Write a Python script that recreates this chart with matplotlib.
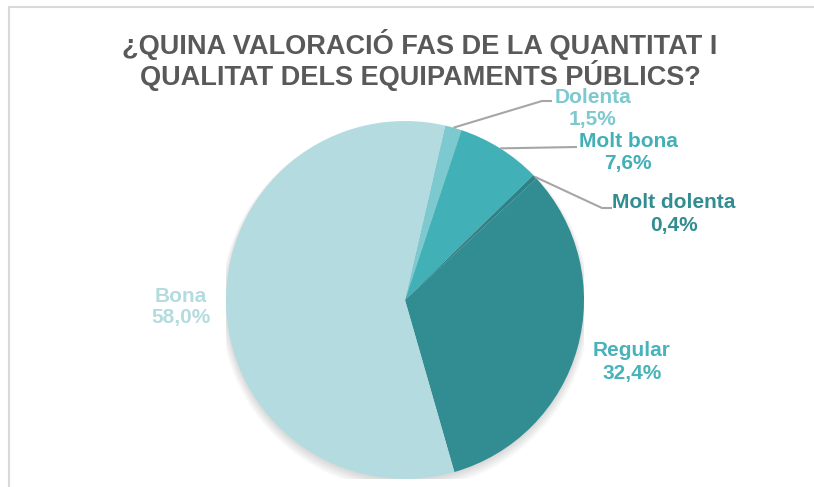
import numpy as np
import matplotlib
matplotlib.use("Agg")
from matplotlib import pyplot as plt
from matplotlib.patches import Rectangle, Circle

# data, clockwise from the top
labels = ["Dolenta", "Molt bona", "Molt dolenta", "Regular", "Bona"]
values = [1.5, 7.6, 0.4, 32.4, 58.0]
colors = ["#7cc9cf", "#42b0b7", "#2d8287", "#318d92", "#b4dce0"]
label_colors = ["#7cc9cf", "#42b0b7", "#318d92", "#48b3ba", "#b4dce0"]

title = "¿QUINA VALORACIÓ FAS DE LA QUANTITAT I\nQUALITAT DELS EQUIPAMENTS PÚBLICS?"

W, H = 814, 487
CX, CY, R = 405, 300, 179


def px(x, y):
    # pixel position -> data coords (pie radius 1)
    return (x - CX) / R, (CY - y) / R


# label centres and leader elbows in pixels
label_pos = {
    "Dolenta": (593, 108),
    "Molt bona": (628, 152),
    "Molt dolenta": (674, 214),
    "Regular": (632, 362),
    "Bona": (181, 307),
}
leaders = {
    "Dolenta": [(542, 101), (552, 101)],
    "Molt bona": [(577, 147)],
    "Molt dolenta": [(602, 208), (612, 208)],
}

plt.rcParams["font.family"] = ["Liberation Sans", "DejaVu Sans"]

fig = plt.figure(figsize=(W / 100, H / 100), dpi=100)
fig.patch.set_facecolor("white")

# light frame of the chart area
fig.patches.append(Rectangle((9 / W, -0.1), 1.2, (H - 7) / H + 0.1,
                             transform=fig.transFigure, fill=False,
                             edgecolor="#d9d9d9", linewidth=1.5))

ax = fig.add_axes([(CX - R) / W, (H - CY - R) / H, 2 * R / W, 2 * R / H])

# soft shadow
for i in range(6):
    ax.add_patch(Circle((0, -0.012 - i * 0.004), 1.0 + i * 0.006,
                        color="black", alpha=0.025, lw=0, zorder=0))

wedges, _ = ax.pie(values, colors=colors, startangle=77, counterclock=False,
                   radius=1.0, wedgeprops=dict(linewidth=0))
for w in wedges:
    w.set_zorder(2)

ax.set_xlim(-1, 1)
ax.set_ylim(-1, 1)
ax.set_aspect("equal")
ax.axis("off")

for w, lab, val, lc in zip(wedges, labels, values, label_colors):
    tx, ty = px(*label_pos[lab])
    txt = lab + "\n" + ("%.1f%%" % val).replace(".", ",")
    ax.text(tx, ty, txt, ha="center", va="center", fontsize=15,
            fontweight="bold", color=lc, linespacing=1.2, zorder=5,
            clip_on=False)
    if lab in leaders:
        mid = np.deg2rad((w.theta1 + w.theta2) / 2)
        pts = [(np.cos(mid), np.sin(mid))] + [px(*p) for p in leaders[lab]]
        xs, ys = zip(*pts)
        ax.plot(xs, ys, color="#a6a6a6", lw=1.5, zorder=4, clip_on=False,
                solid_capstyle="butt")

fig.text(420 / W, 1 - 60 / H, title, ha="center", va="center",
         fontsize=19.5, fontweight="bold", color="#595959", linespacing=1.0)

fig.savefig("out.png", dpi=100)
